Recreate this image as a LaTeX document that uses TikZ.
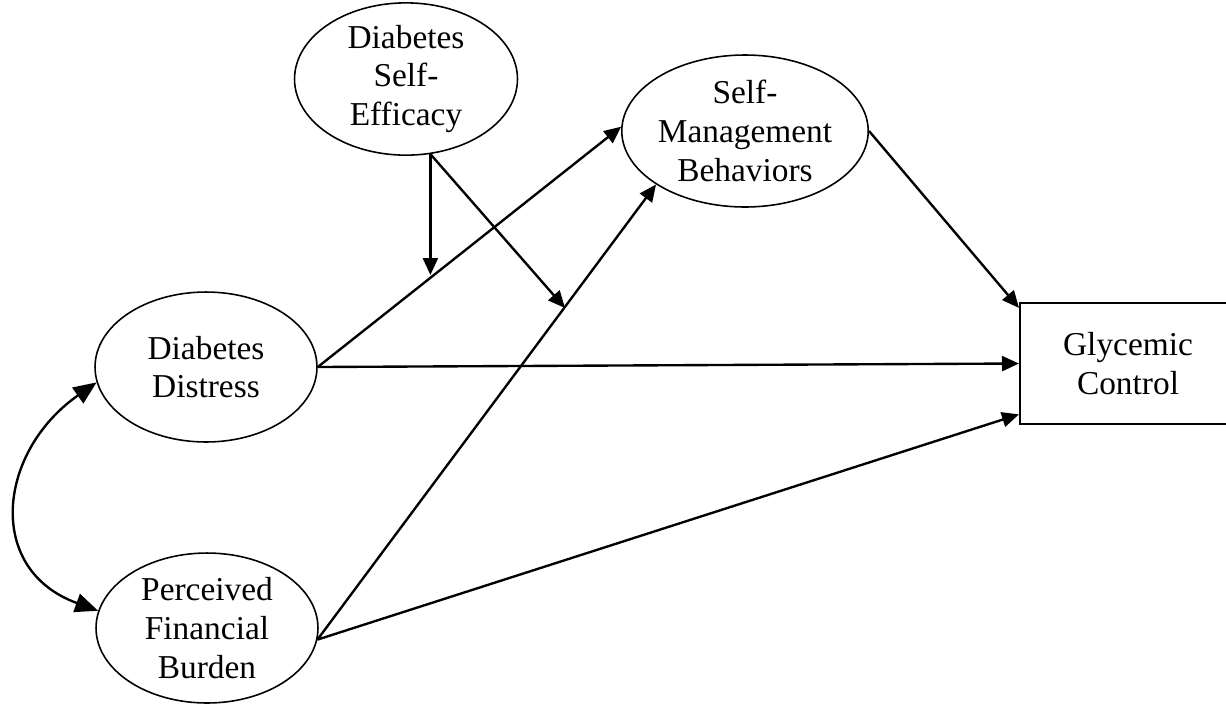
\documentclass[tikz,border=0pt]{standalone}
\usepackage{fontspec}
\setmainfont{Liberation Serif}
\usetikzlibrary{shapes.geometric,arrows.meta}

\begin{document}
\begin{tikzpicture}[x=0.02cm, y=-0.02cm,
    every node/.style={font=\fontsize{19}{22}\selectfont, align=center},
    latent/.style={ellipse, draw, line width=0.9pt, inner sep=0pt, minimum width=4.44cm, minimum height=3cm},
    outcome/.style={rectangle, draw, line width=1.2pt, inner sep=0pt, minimum width=4.32cm, minimum height=2.42cm},
    effect/.style={line width=1.35pt, -{Triangle[length=0.34cm,width=0.3cm]}},
    covary/.style={line width=1.35pt, {Triangle[length=0.46cm,width=0.38cm]}-{Triangle[length=0.46cm,width=0.38cm]}}]
        \useasboundingbox (0,0) rectangle (1226,704);
        % Variables
        \node[latent, minimum width=4.46cm, minimum height=2.96cm] (efficacy) at (406,79) {Diabetes\\Self-\\Efficacy};
        \node[latent, minimum width=4.48cm, minimum height=3.04cm] (selfmgmt) at (745,131) {Self-\\Management\\Behaviors};
        \node[latent] (distress) at (206,367) {Diabetes\\Distress};
        \node[latent] (burden) at (207,628) {Perceived\\Financial\\Burden};
        \node[outcome] (glycemic) at (1128,363.5) {Glycemic\\Control};
        % Moderation targets
        \coordinate (modA) at (429,275);
        \coordinate (modB) at (565,308);
        % Paths
        \draw[effect] (distress.east) -- (selfmgmt.178);
        \draw[effect] (distress.east) -- (glycemic.west);
        \draw[effect] (burden.-6) -- (selfmgmt.211);
        \draw[effect] (burden.-6) -- (glycemic.-155);
        \draw[effect] (selfmgmt.east) -- (glycemic.153);
        \draw[effect] (efficacy.-72) -- (efficacy.-72 |- modA);
        \draw[effect] (efficacy.-72) -- (modB);
        % Covariance
        \draw[covary] (distress.188) to[out=215, in=160, looseness=1.35] (burden.171);
    \end{tikzpicture}
\end{document}
